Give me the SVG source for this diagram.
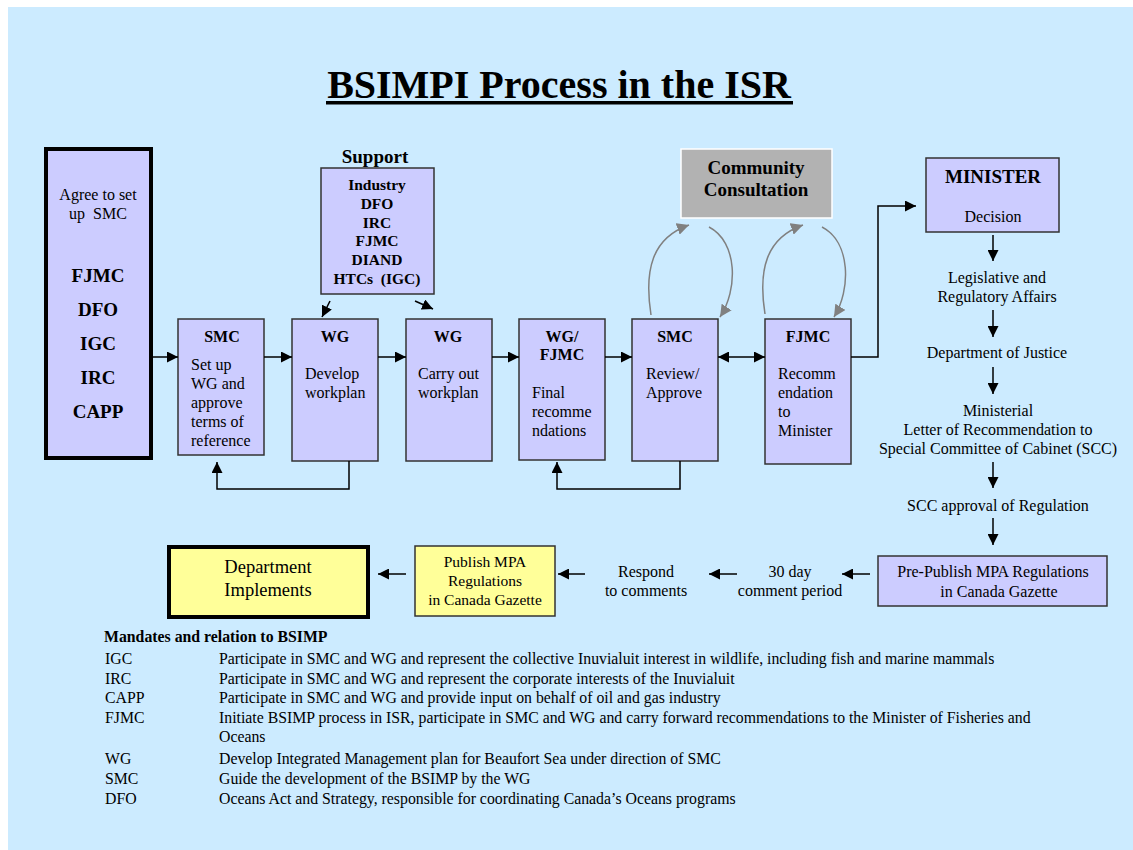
<svg xmlns="http://www.w3.org/2000/svg" width="1133" height="850" viewBox="0 0 1133 850">
<defs>
<marker id="ah" viewBox="0 0 10 10" refX="10" refY="5" markerWidth="11" markerHeight="11" markerUnits="userSpaceOnUse" orient="auto-start-reverse"><path d="M0,0 L10,5 L0,10 z" fill="#000"/></marker>
<marker id="ahg" viewBox="0 0 10 10" refX="10" refY="5" markerWidth="12" markerHeight="12" markerUnits="userSpaceOnUse" orient="auto"><path d="M0,0 L10,5 L0,10 z" fill="#808080"/></marker>
</defs>
<style>
text{font-family:"Liberation Serif","Times New Roman",serif;fill:#000}
.box{fill:#CCCCFF;stroke:#333;stroke-width:1.5}
.thick{stroke:#000;stroke-width:4}
.yel{fill:#FFFF99;stroke:#333;stroke-width:1.5}
.b{font-weight:bold}
.t15{font-size:16px}
.t16{font-size:16px}
.sp{font-size:15.5px;font-weight:bold}
.h{font-size:16px;font-weight:bold}
.h19{font-size:19px;font-weight:bold}
.c{text-anchor:middle}
.ln{fill:none;stroke:#000;stroke-width:1.5}
.ar{fill:none;stroke:#000;stroke-width:1.5;marker-end:url(#ah)}
.gr{fill:none;stroke:#808080;stroke-width:1.5;marker-end:url(#ahg)}
.lg{font-size:15.8px}
</style>
<rect x="8" y="7" width="1125" height="843" fill="#CCEBFF"/>
<g id="title">
<text x="559" y="98" class="c b" font-size="40">BSIMPI Process in the ISR</text>
<rect x="326" y="101" width="467" height="3.5" fill="#000"/>
</g>
<g id="agree">
<rect x="46" y="149" width="105" height="309" class="box thick"/>
<text class="c t15" x="98" y="200">Agree to set</text>
<text class="c t15" x="98" y="219">up&#160; SMC</text>
<text class="c h19" x="98" y="282">FJMC</text>
<text class="c h19" x="98" y="316">DFO</text>
<text class="c h19" x="98" y="350">IGC</text>
<text class="c h19" x="98" y="384">IRC</text>
<text class="c h19" x="98" y="418">CAPP</text>
</g>
<g id="smc1">
<rect x="178" y="319" width="86" height="136" class="box"/>
<text class="c h" x="222" y="342">SMC</text>
<text class="t16" x="191" y="370">Set up</text>
<text class="t16" x="191" y="389">WG and</text>
<text class="t16" x="191" y="408">approve</text>
<text class="t16" x="191" y="427">terms of</text>
<text class="t16" x="191" y="446">reference</text>
</g>
<g id="support">
<text class="c h19" x="375" y="163">Support</text>
<rect x="321" y="168" width="113" height="126" class="box"/>
<text class="c sp" x="377" y="190">Industry</text>
<text class="c sp" x="377" y="209">DFO</text>
<text class="c sp" x="377" y="228">IRC</text>
<text class="c sp" x="377" y="246">FJMC</text>
<text class="c sp" x="377" y="265">DIAND</text>
<text class="c sp" x="377" y="284">HTCs&#160; (IGC)</text>
</g>
<g id="wg1">
<rect x="292" y="319" width="86" height="142" class="box"/>
<text class="c h" x="335" y="342">WG</text>
<text class="t16" x="305" y="379">Develop</text>
<text class="t16" x="305" y="398">workplan</text>
</g>
<g id="wg2">
<rect x="406" y="319" width="86" height="142" class="box"/>
<text class="c h" x="448" y="342">WG</text>
<text class="t16" x="418" y="379">Carry out</text>
<text class="t16" x="418" y="398">workplan</text>
</g>
<g id="wgfjmc">
<rect x="519" y="319" width="86" height="141" class="box"/>
<text class="c h" x="562" y="342">WG/</text>
<text class="c h" x="562" y="360">FJMC</text>
<text class="t16" x="532" y="398">Final</text>
<text class="t16" x="532" y="417">recomme</text>
<text class="t16" x="532" y="436">ndations</text>
</g>
<g id="smc2">
<rect x="632" y="319" width="86" height="142" class="box"/>
<text class="c h" x="675" y="342">SMC</text>
<text class="t16" x="646" y="379">Review/</text>
<text class="t16" x="646" y="398">Approve</text>
</g>
<g id="fjmc">
<rect x="765" y="319" width="86" height="145" class="box"/>
<text class="c h" x="808" y="342">FJMC</text>
<text class="t16" x="778" y="379">Recomm</text>
<text class="t16" x="778" y="398">endation</text>
<text class="t16" x="778" y="417">to</text>
<text class="t16" x="778" y="436">Minister</text>
</g>
<g id="community">
<rect x="681" y="149" width="151" height="69" fill="#B2B2B2" stroke="#fff" stroke-width="1.5"/>
<text class="c h19" x="756" y="174">Community</text>
<text class="c h19" x="756" y="196">Consultation</text>
</g>
<g id="minister">
<rect x="926" y="158" width="133" height="74" class="box"/>
<text class="c h19" x="993" y="183">MINISTER</text>
<text class="c t15" x="993" y="222">Decision</text>
</g>
<g id="steps">
<text class="c t15" x="997" y="283">Legislative and</text>
<text class="c t15" x="997" y="302">Regulatory Affairs</text>
<text class="c t15" x="997" y="358">Department of Justice</text>
<text class="c t15" x="998" y="416">Ministerial</text>
<text class="c t15" x="998" y="435">Letter of Recommendation to</text>
<text class="c t15" x="998" y="454">Special Committee of Cabinet (SCC)</text>
<text class="c t15" x="998" y="511">SCC approval of Regulation</text>
</g>
<g id="prepublish">
<rect x="878" y="556" width="229" height="50" class="box"/>
<text class="c t15" x="993" y="577">Pre-Publish MPA Regulations</text>
<text class="c t15" x="999" y="597">in Canada Gazette</text>
</g>
<g id="comments">
<text class="c t15" x="790" y="577">30 day</text>
<text class="c t15" x="790" y="596">comment period</text>
<text class="c t15" x="646" y="577">Respond</text>
<text class="c t15" x="646" y="596">to comments</text>
</g>
<g id="publish">
<rect x="415" y="546" width="140" height="70" class="yel"/>
<text class="c" font-size="15.5" x="485" y="567">Publish MPA</text>
<text class="c" font-size="15.5" x="485" y="586">Regulations</text>
<text class="c" font-size="15.5" x="485" y="605">in Canada Gazette</text>
</g>
<g id="implements">
<rect x="169" y="547" width="199" height="70" fill="#FFFF99" stroke="#000" stroke-width="4"/>
<text class="c" font-size="18.5" x="268" y="573">Department</text>
<text class="c" font-size="18.5" x="268" y="596">Implements</text>
</g>
<g id="legend">
<text class="b lg" x="104" y="642">Mandates and relation to BSIMP</text>
<text class="lg" x="105" y="664">IGC</text>
<text class="lg" x="219" y="664">Participate in SMC and WG and represent the collective Inuvialuit interest in wildlife, including fish and marine mammals</text>
<text class="lg" x="105" y="684">IRC</text>
<text class="lg" x="219" y="684">Participate in SMC and WG and represent the corporate interests of the Inuvialuit</text>
<text class="lg" x="105" y="703">CAPP</text>
<text class="lg" x="219" y="703">Participate in SMC and WG and provide input on behalf of oil and gas industry</text>
<text class="lg" x="105" y="723">FJMC</text>
<text class="lg" x="219" y="723">Initiate BSIMP process in ISR, participate in SMC and WG and carry forward recommendations to the Minister of Fisheries and</text>
<text class="lg" x="219" y="742">Oceans</text>
<text class="lg" x="105" y="764">WG</text>
<text class="lg" x="219" y="764">Develop Integrated Management plan for Beaufort Sea under direction of SMC</text>
<text class="lg" x="105" y="784">SMC</text>
<text class="lg" x="219" y="784">Guide the development of the BSIMP by the WG</text>
<text class="lg" x="105" y="804">DFO</text>
<text class="lg" x="219" y="804">Oceans Act and Strategy, responsible for coordinating Canada’s Oceans programs</text>
</g>
<g id="connectors">
<path class="ar" d="M152,357 H178"/>
<path class="ar" d="M264,357 H292"/>
<path class="ar" d="M378,357 H406"/>
<path class="ar" d="M492,357 H519"/>
<path class="ar" d="M605,357 H632"/>
<path class="ar" d="M718,357 H765" marker-start="url(#ah)"/>
<path class="ar" d="M851,357 H878 V206 H916"/>
<path class="ar" d="M349,461 V489 H217 V462"/>
<path class="ar" d="M680,461 V489 H557 V462"/>
<path class="ar" d="M330,301 L322,317"/>
<path class="ar" d="M415,301 L433,309"/>
<path class="gr" d="M651,315 C644,270 652,238 689,225"/>
<path class="gr" d="M709,227 C738,242 738,290 720,317"/>
<path class="gr" d="M765,314 C758,270 766,238 803,225"/>
<path class="gr" d="M822,227 C851,242 851,290 834,317"/>
<path class="ar" d="M993,235 V261"/>
<path class="ar" d="M993,310 V337"/>
<path class="ar" d="M993,367 V394"/>
<path class="ar" d="M993,462 V488"/>
<path class="ar" d="M993,518 V545"/>
<path class="ar" d="M870,574 H842"/>
<path class="ar" d="M737,574 H709"/>
<path class="ar" d="M585,574 H558"/>
<path class="ar" d="M406,574 H378"/>
</g>
</svg>
